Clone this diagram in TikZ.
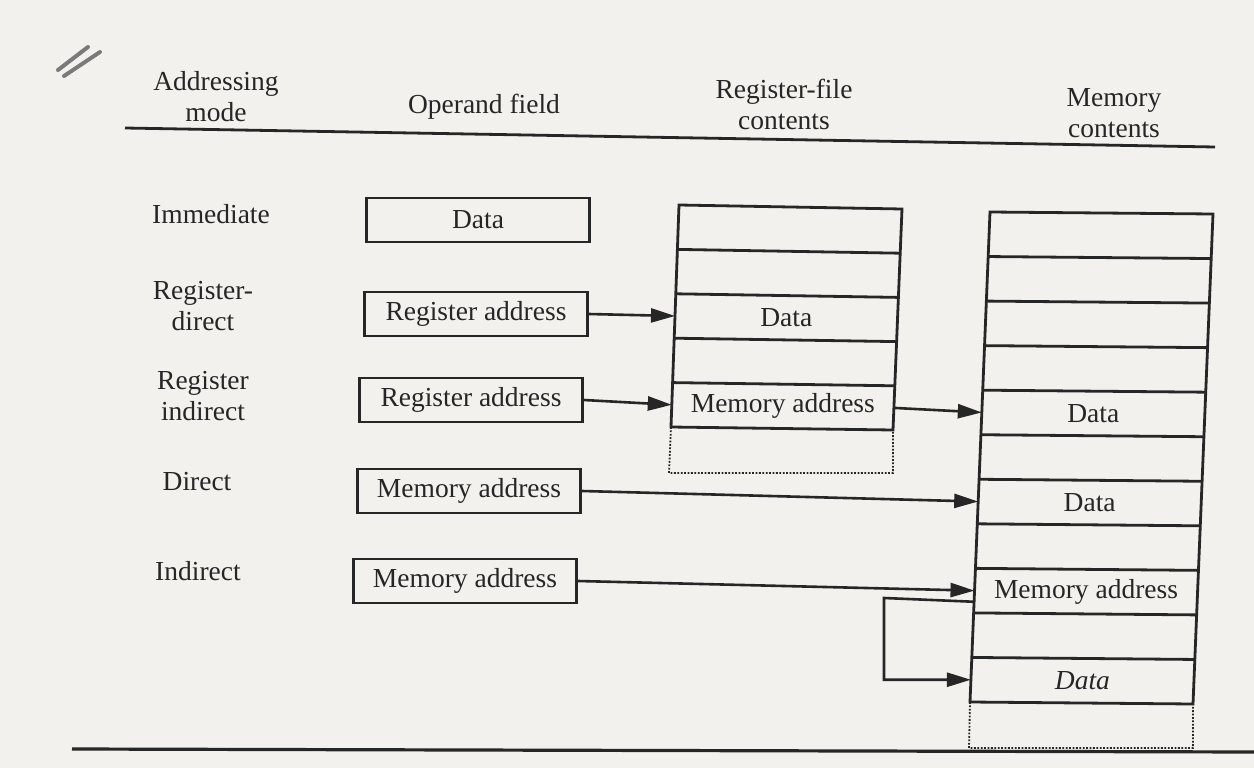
\documentclass[tikz,border=0pt]{standalone}
\usepackage{fontspec}
\setmainfont{Liberation Serif}
\usetikzlibrary{calc,arrows.meta}
\definecolor{paper}{HTML}{F3F1EE}
\definecolor{ink}{HTML}{262626}
\definecolor{pencil}{HTML}{7A7A7A}
\begin{document}
\begin{tikzpicture}[x=1pt,y=-1pt,
  font=\fontsize{27.5}{31}\selectfont,
  lbl/.style={text=ink, inner sep=0pt, align=center},
  opbox/.style={draw=ink, line width=2.8pt, minimum width=223pt, minimum height=44pt, inner sep=0pt, text=ink},
  arr/.style={draw=ink, line width=2.6pt, -{Triangle[length=24pt,width=14pt]}},
  col/.style={draw=ink, line width=2.8pt},
  dots/.style={draw=ink, line width=1.8pt, dash pattern=on 1.8pt off 1.6pt},
  rule/.style={draw=ink, line width=2.8pt}]
\useasboundingbox[fill=paper] (0,0) rectangle (1254,768);

% pencil mark
\draw[pencil, line width=4pt, line cap=round] (58,70) -- (88,47);
\draw[pencil, line width=4pt, line cap=round] (64,76) -- (100,52);

% headers
\node[lbl] (hmode) at (216,97) {Addressing\\mode};
\node[lbl] (hop) at (484,107) {Operand field};
\node[lbl] (hreg) at (784,104) {Register-file\\contents};
\node[lbl] (hmem) at (1114,113) {Memory\\contents};
\coordinate (ruleL) at (125,128);
\coordinate (ruleR) at (1215,147);
\draw[rule] (ruleL) -- (ruleR);

% mode labels
\node[lbl] (mimm) at (211,214) {Immediate};
\node[lbl] (mrd) at (203,306) {Register-\\direct};
\node[lbl] (mri) at (203,396) {Register\\indirect};
\node[lbl] (mdir) at (197,482) {Direct};
\node[lbl] (mind) at (198,571) {Indirect};

% operand field boxes
\node[opbox] (dataop) at (478,220) {Data};
\node[opbox] (rao1) at (476,314) {Register address};
\node[opbox] (rao2) at (471,400) {Register address};
\node[opbox] (mao1) at (469,491) {Memory address};
\node[opbox] (mao2) at (465,581) {Memory address};

% register file column
\coordinate (rTL) at (679,205); \coordinate (rTR) at (902,209);
\coordinate (rBL) at (671,427); \coordinate (rBR) at (893,430);
\draw[col] (rTL) -- (rTR) -- (rBR) -- (rBL) -- cycle;
\foreach \i in {1,...,4} \draw[col] ($(rTL)!\i/5!(rBL)$) -- ($(rTR)!\i/5!(rBR)$);
\draw[dots] (rBL) -- (669,473) -- (893,473) -- (rBR);
\coordinate (rTC) at ($(rTL)!0.5!(rTR)$); \coordinate (rBC) at ($(rBL)!0.5!(rBR)$);
\node[lbl] (rdata) at ($(rTC)!0.5!(rBC)$) {Data};
\node[lbl] (rmem) at ($(rTC)!0.9!(rBC)$) {Memory address};
\coordinate (r3w) at ($(rTL)!0.5!(rBL)$);
\coordinate (r5w) at ($(rTL)!0.9!(rBL)$);
\coordinate (r5e) at ($(rTR)!0.9!(rBR)$);

% memory column
\coordinate (mTL) at (990,212); \coordinate (mTR) at (1213,214);
\coordinate (mBL) at (970,702); \coordinate (mBR) at (1193,704);
\draw[col] (mTL) -- (mTR) -- (mBR) -- (mBL) -- cycle;
\foreach \i in {1,...,10} \draw[col] ($(mTL)!\i/11!(mBL)$) -- ($(mTR)!\i/11!(mBR)$);
\draw[dots] (mBL) -- (969,748) -- (1193,748) -- (mBR);
\coordinate (mTC) at ($(mTL)!0.5!(mTR)$); \coordinate (mBC) at ($(mBL)!0.5!(mBR)$);
\node[lbl] (mdata5) at ($(mTC)!4.5/11!(mBC)$) {Data};
\node[lbl] (mdata7) at ($(mTC)!6.5/11!(mBC)$) {Data};
\node[lbl] (mmem9) at ($(mTC)!8.5/11!(mBC)$) {Memory address};
\node[lbl] (mdata11) at ($(mTC)!10.5/11!(mBC)$) {\itshape Data};
\coordinate (m5w) at ($(mTL)!4.5/11!(mBL)$);
\coordinate (m7w) at ($(mTL)!6.5/11!(mBL)$);
\coordinate (m9w) at ($(mTL)!8.5/11!(mBL)$);
\coordinate (m9o) at ($(mTL)!8.75/11!(mBL)$);
\coordinate (m11w) at ($(mTL)!10.5/11!(mBL)$);
\coordinate (fbturn) at (884,598);

% connectors
\draw[arr] (rao1.east) -- (r3w);
\draw[arr] (rao2.east) -- (r5w);
\draw[arr] (r5e) -- (m5w);
\draw[arr] (mao1.east) -- (m7w);
\draw[arr] (mao2.east) -- (m9w);
\draw[arr] (m9o) -- (fbturn) |- (m11w);

% bottom rule
\coordinate (botL) at (72,749);
\coordinate (botR) at (1254,752);
\draw[draw=ink, line width=3.2pt] (botL) -- (botR);
\end{tikzpicture}
\end{document}
